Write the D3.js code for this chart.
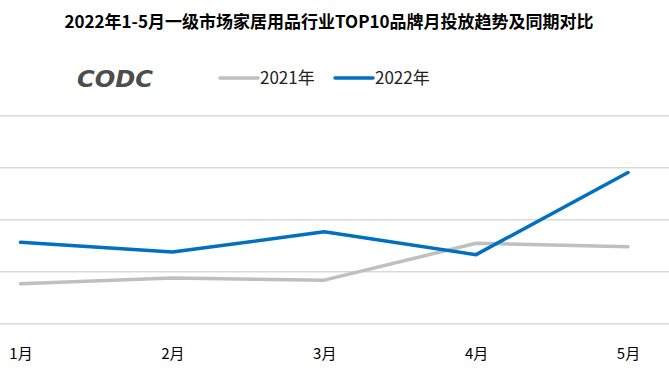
<!DOCTYPE html>
<html><head><meta charset="utf-8">
<script src="https://cdn.jsdelivr.net/npm/d3@7"></script>
<style>html,body{margin:0;padding:0;background:#fff;}svg{display:block;}</style>
</head><body>
<script>
const title = "2022年1-5月一级市场家居用品行业TOP10品牌月投放趋势及同期对比";
const months = ["1月","2月","3月","4月","5月"];
const seriesNames = ["2021年","2022年"];
const values2021 = [0.76, 0.87, 0.83, 1.54, 1.47];
const values2022 = [1.56, 1.37, 1.76, 1.32, 2.90];
const yTicks = [0, 1, 2, 3, 4];
const colors = ["#BFBFBF", "#0070C0"];

const W = 669, H = 373;
const font = "'Noto Sans CJK SC','Noto Sans',sans-serif";
const svg = d3.select("body").append("svg").attr("width", W).attr("height", H);

svg.append("text").attr("x", 329).attr("y", 28).attr("text-anchor", "middle")
  .attr("font-family", font).attr("font-weight", "bold").attr("font-size", 17)
  .attr("fill", "#000").text(title);

// logo
svg.append("text").attr("x", 77).attr("y", 87).attr("font-family", "'DejaVu Sans',sans-serif")
  .attr("font-weight", "bold").attr("font-style", "italic").attr("font-size", 23)
  .attr("fill", "#4d4d4d").attr("textLength", 76).attr("lengthAdjust", "spacingAndGlyphs").text("CODC");

const x = d3.scalePoint().domain(months).range([20.5, 628]);
const y = d3.scaleLinear().domain([0, 4]).range([323.3, 115.3]);

// gridlines
const grid = svg.append("g").attr("class", "grid")
  .call(d3.axisLeft(y).tickValues(yTicks).tickSize(-669).tickFormat(""));
grid.select(".domain").remove();
grid.selectAll("line").attr("x1", 0).attr("x2", 669).attr("stroke", "#D9D9D9").attr("stroke-width", 1.5);

// x axis labels
const xa = svg.append("g").attr("transform", "translate(0,323.3)")
  .call(d3.axisBottom(x).tickSize(0).tickPadding(0));
xa.select(".domain").remove();
xa.selectAll("text").attr("y", 36).attr("dy", 0).attr("font-family", font)
  .attr("font-size", 15).attr("fill", "#000");

const line = d3.line().x((d, i) => x(months[i])).y(d => y(d));
[values2021, values2022].forEach((vals, k) => {
  svg.append("path").datum(vals).attr("d", line).attr("fill", "none")
    .attr("stroke", colors[k]).attr("stroke-width", 3.5)
    .attr("stroke-linejoin", "round").attr("stroke-linecap", "round");
});

// legend
const legX = [220, 335];
seriesNames.forEach((n, k) => {
  const g = svg.append("g").attr("transform", `translate(${legX[k]},78)`);
  g.append("line").attr("x1", 0).attr("x2", 38).attr("y1", 0).attr("y2", 0)
    .attr("stroke", colors[k]).attr("stroke-width", 3.5).attr("stroke-linecap", "round");
  g.append("text").attr("x", 40).attr("y", 6).attr("font-family", font)
    .attr("font-size", 17).attr("fill", "#222").text(n);
});
</script>
</body></html>
